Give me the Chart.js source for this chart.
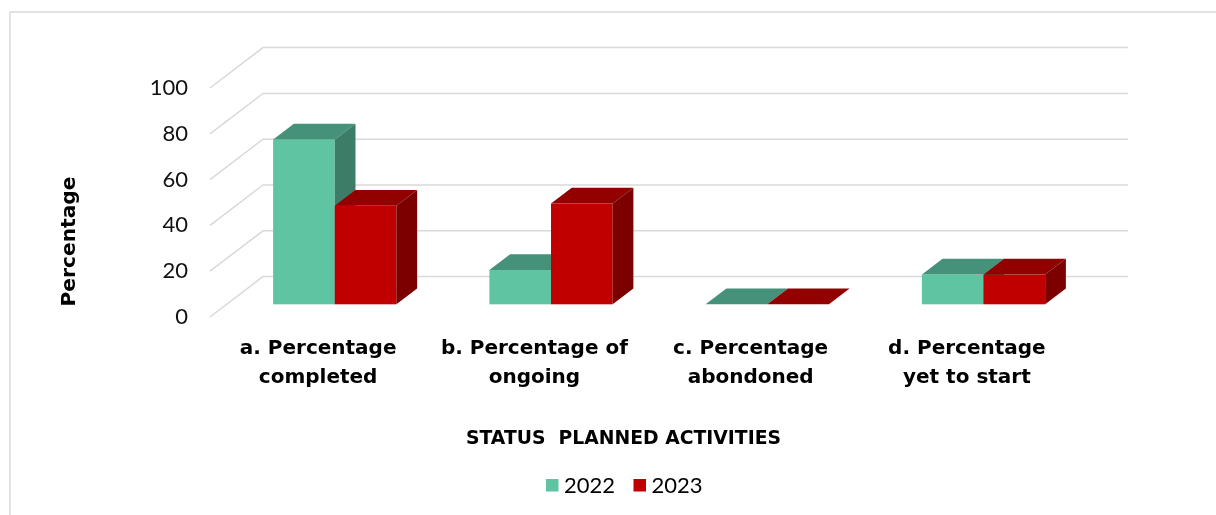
<!DOCTYPE html>
<html>
<head>
<meta charset="utf-8">
<title>Status planned activities</title>
<script src="https://cdn.jsdelivr.net/npm/chart.js@4.4.1/dist/chart.umd.min.js"></script>
<style>
  html, body { margin: 0; padding: 0; background: #fff; }
  #wrap { position: relative; width: 1216px; height: 515px; }
</style>
</head>
<body>
<div id="wrap"><canvas id="statusChart"></canvas></div>
<script>
// categories (one entry per label line) and yearly values
const categories = [
    ['a. Percentage', 'completed'],
    ['b. Percentage of', 'ongoing'],
    ['c. Percentage', 'abondoned'],
    ['d. Percentage', 'yet to start']
];
const values2022 = [72, 15, 0, 13];
const values2023 = [43, 44, 0, 13];
const seriesNames = ['2022', '2023'];
const yTicks = [0, 20, 40, 60, 80, 100];

// face colours per series: front, top, side
const faces = [
    { front: '#5ec4a1', top: '#46917a', side: '#3d7c66' },
    { front: '#c00000', top: '#920000', side: '#7c0000' }
];

// 3D offsets: back wall shift, bar slab position inside the depth
const DEPTH_X = 53, DEPTH_Y = 40.4;
const BAR_Z0 = 0.314, BAR_Z1 = 0.705;

// draw text squeezed/stretched to a given width, centred on (cx, cy)
function fitText(ctx, text, cx, cy, width) {
    const w = ctx.measureText(text).width;
    ctx.save();
    ctx.translate(cx, cy);
    ctx.scale(width / w, 1);
    ctx.fillText(text, 0, 0);
    ctx.restore();
}

const box3d = {
    id: 'box3d',
    beforeDatasetsDraw(chart) {
        const ctx = chart.ctx;
        const area = chart.chartArea;
        const yScale = chart.scales.y;

        // back wall gridlines with the diagonal floor/side lines
        ctx.save();
        ctx.strokeStyle = '#d9d9d9';
        ctx.lineWidth = 1.5;
        yTicks.forEach(v => {
            const y = yScale.getPixelForValue(v);
            ctx.beginPath();
            ctx.moveTo(area.left, y);
            ctx.lineTo(area.left + DEPTH_X, y - DEPTH_Y);
            ctx.lineTo(area.right + DEPTH_X, y - DEPTH_Y);
            ctx.stroke();
        });
        ctx.restore();

        const ox = DEPTH_X * BAR_Z0, oy = DEPTH_Y * BAR_Z0;
        const dx = DEPTH_X * (BAR_Z1 - BAR_Z0), dy = DEPTH_Y * (BAR_Z1 - BAR_Z0);

        chart.data.datasets.forEach((ds, di) => {
            const meta = chart.getDatasetMeta(di);
            const c = faces[di];
            meta.data.forEach(bar => {
                const p = bar.getProps(['x', 'y', 'base', 'width'], true);
                const l = p.x - p.width / 2 + ox;
                const r = p.x + p.width / 2 + ox;
                const t = p.y - oy;
                const b = p.base - oy;

                ctx.fillStyle = c.front;
                ctx.fillRect(l, t, r - l, b - t);

                ctx.fillStyle = c.top;
                ctx.beginPath();
                ctx.moveTo(l, t);
                ctx.lineTo(l + dx, t - dy);
                ctx.lineTo(r + dx, t - dy);
                ctx.lineTo(r, t);
                ctx.closePath();
                ctx.fill();

                ctx.fillStyle = c.side;
                ctx.beginPath();
                ctx.moveTo(r, t);
                ctx.lineTo(r + dx, t - dy);
                ctx.lineTo(r + dx, b - dy);
                ctx.lineTo(r, b);
                ctx.closePath();
                ctx.fill();
            });
        });
        return false;
    },
    afterDraw(chart) {
        const ctx = chart.ctx;
        ctx.save();

        // outer frame
        ctx.strokeStyle = '#d9d9d9';
        ctx.lineWidth = 1.5;
        ctx.strokeRect(10, 12, 1300, 600);

        ctx.fillStyle = '#000';
        ctx.textAlign = 'center';
        ctx.textBaseline = 'middle';

        // axis titles
        ctx.font = 'bold 20px "DejaVu Sans"';
        fitText(ctx, 'STATUS  PLANNED ACTIVITIES', 623.5, 439, 315);

        ctx.save();
        ctx.translate(70, 241.5);
        ctx.rotate(-Math.PI / 2);
        ctx.font = 'bold 20px "DejaVu Sans"';
        fitText(ctx, 'Percentage', 0, 0, 130);
        ctx.restore();

        // legend
        ctx.font = '22px Lato';
        ctx.textAlign = 'left';
        const legendX = [546, 633.5];
        seriesNames.forEach((name, i) => {
            ctx.fillStyle = faces[i].front;
            ctx.fillRect(legendX[i], 479, 12.5, 12.5);
            ctx.fillStyle = '#000';
            ctx.fillText(name, legendX[i] + 18, 486);
        });
        ctx.restore();
    }
};

const statusChart = new Chart(document.getElementById('statusChart'), {
    type: 'bar',
    data: {
        labels: categories,
        datasets: [
            { label: seriesNames[0], data: values2022, backgroundColor: faces[0].front },
            { label: seriesNames[1], data: values2023, backgroundColor: faces[1].front }
        ]
    },
    options: {
        responsive: true,
        maintainAspectRatio: false,
        animation: false,
        layout: {
            padding: { top: 88, right: 141, left: 0, bottom: 0 }
        },
        datasets: {
            bar: { categoryPercentage: 0.57, barPercentage: 1 }
        },
        plugins: {
            legend: { display: false },
            tooltip: { enabled: false }
        },
        scales: {
            x: {
                grid: { display: false, drawTicks: false },
                border: { display: false },
                ticks: {
                    color: '#000',
                    padding: 17,
                    maxRotation: 0,
                    autoSkip: false,
                    font: { family: '"DejaVu Sans"', size: 20, weight: 'bold', lineHeight: 1.45 }
                },
                afterFit(scale) { scale.height = 198; }
            },
            y: {
                min: 0,
                max: 100,
                grid: { display: false, drawTicks: false },
                border: { display: false },
                ticks: {
                    stepSize: 20,
                    color: '#111',
                    padding: 22,
                    font: { family: 'Lato', size: 22 }
                },
                afterFit(scale) { scale.width = 210; }
            }
        }
    },
    plugins: [box3d]
});
</script>
</body>
</html>
